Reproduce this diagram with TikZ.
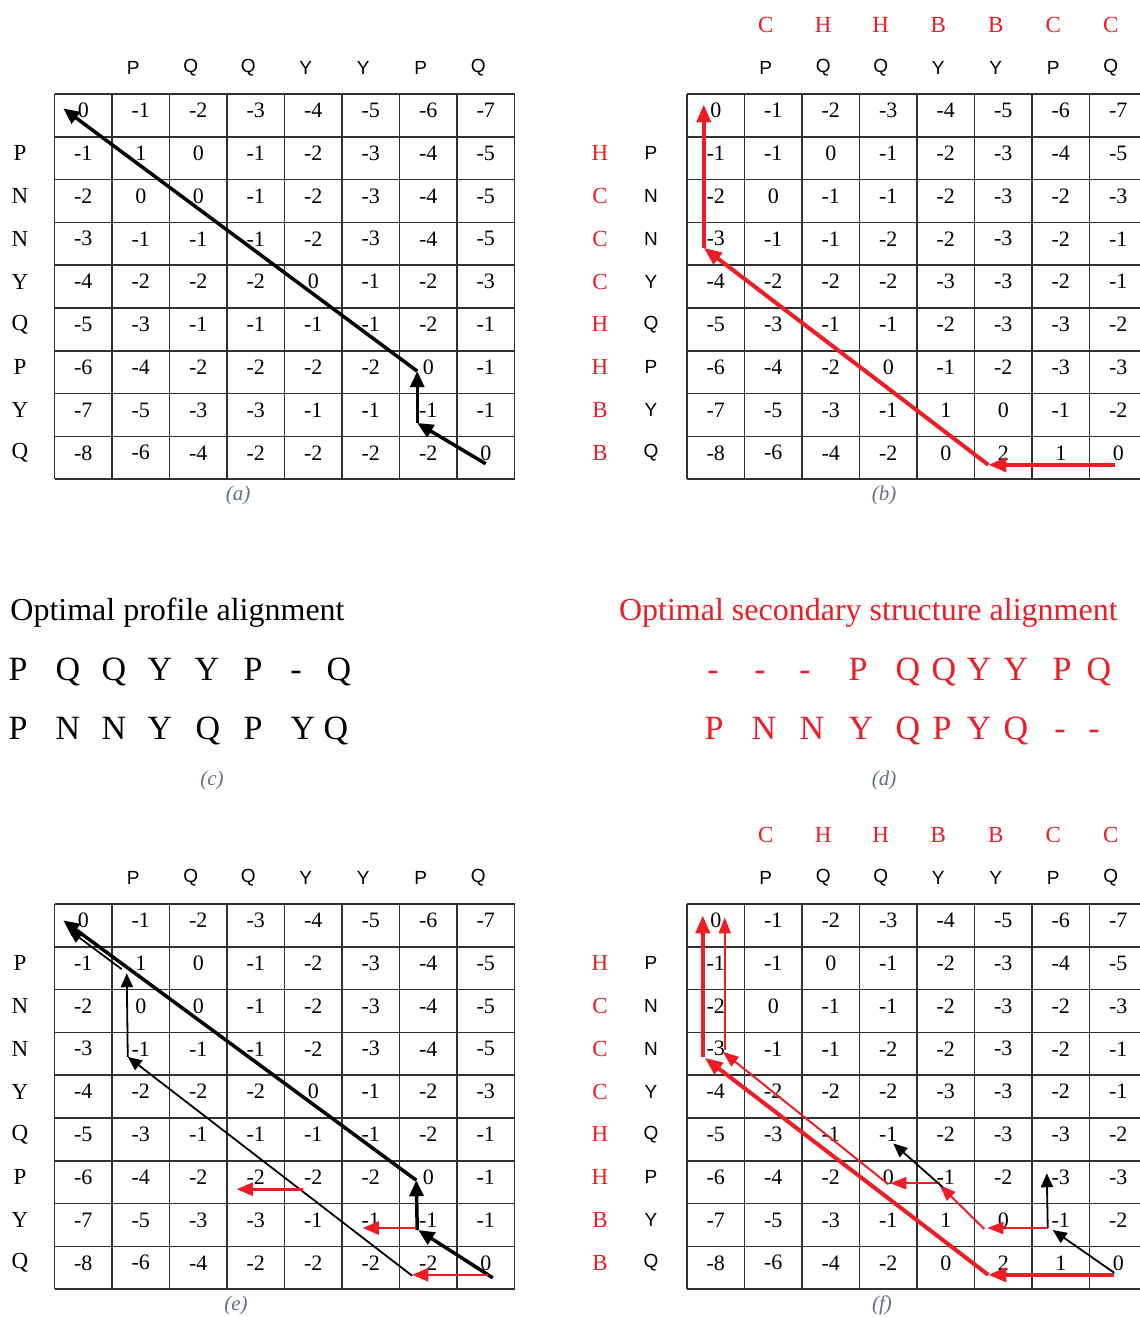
\documentclass[tikz,border=0pt]{standalone}
\usepackage{fontspec}
\setmainfont{Liberation Serif}
\setsansfont{Liberation Sans}
\usetikzlibrary{arrows.meta,calc}
\definecolor{trace}{HTML}{EE1C24}
\definecolor{capgray}{HTML}{5F6F88}
\definecolor{gridln}{HTML}{303030}

\begin{document}
\begin{tikzpicture}[x=0.5pt,y=-0.5pt,
    cellnum/.style={inner sep=0pt,font=\fontsize{11}{13}\selectfont},
    seqlab/.style={inner sep=0pt,font=\sffamily\fontsize{9.5}{11}\selectfont},
    rowlab/.style={inner sep=0pt,font=\fontsize{11.5}{13}\selectfont},
    sslab/.style={inner sep=0pt,color=trace,font=\fontsize{11.5}{13}\selectfont},
    panelcap/.style={inner sep=0pt,color=capgray,font=\itshape\fontsize{10.5}{12}\selectfont},
    aligntxt/.style={inner sep=0pt,anchor=base,font=\fontsize{17}{20}\selectfont},
    gridline/.style={gridln,line width=0.8pt},
    blkthick/.style={line width=1.75pt,-{Triangle[length=8pt,width=7pt]}},
    blkthin/.style={line width=0.9pt,-{Triangle[length=7pt,width=6pt]}},
    redthick/.style={trace,line width=2pt,-{Triangle[length=9pt,width=7pt]}},
    redmid/.style={trace,line width=1.3pt,-{Triangle[length=8pt,width=6.5pt]}},
    redthin/.style={trace,line width=1pt,-{Triangle[length=8pt,width=6pt]}}
  ]
    \path[use as bounding box,fill=white] (0,0) rectangle (1140,1317);

    % Grids of the four score matrices
    \foreach \p/\xo/\yo in {a/54.5/94,b/687/94,e/54.5/904,f/687/904}{
      \foreach \k in {0,...,8}
        \draw[gridline] (\xo+57.5*\k,\yo) -- (\xo+57.5*\k,\yo+385.2);
      \foreach \k in {0,...,9}
        \draw[gridline] (\xo,\yo+42.8*\k) -- (\xo+460,\yo+42.8*\k);
    }

    % Profile scores, panels (a) and (e)
    \foreach \p/\yo in {a/94,e/904}{
      \foreach \scores [count=\r from 0] in {{0,-1,-2,-3,-4,-5,-6,-7},
          {-1,1,0,-1,-2,-3,-4,-5},{-2,0,0,-1,-2,-3,-4,-5},
          {-3,-1,-1,-1,-2,-3,-4,-5},{-4,-2,-2,-2,0,-1,-2,-3},
          {-5,-3,-1,-1,-1,-1,-2,-1},{-6,-4,-2,-2,-2,-2,0,-1},
          {-7,-5,-3,-3,-1,-1,-1,-1},{-8,-6,-4,-2,-2,-2,-2,0}}{
        \foreach \v [count=\c from 0] in \scores
          \node[cellnum] (\p-\r-\c) at (83.25+57.5*\c,\yo+16.4+42.8*\r) {\v};
      }
    }

    % Secondary structure scores, panels (b) and (f)
    \foreach \p/\yo in {b/94,f/904}{
      \foreach \scores [count=\r from 0] in {{0,-1,-2,-3,-4,-5,-6,-7},
          {-1,-1,0,-1,-2,-3,-4,-5},{-2,0,-1,-1,-2,-3,-2,-3},
          {-3,-1,-1,-2,-2,-3,-2,-1},{-4,-2,-2,-2,-3,-3,-2,-1},
          {-5,-3,-1,-1,-2,-3,-3,-2},{-6,-4,-2,0,-1,-2,-3,-3},
          {-7,-5,-3,-1,1,0,-1,-2},{-8,-6,-4,-2,0,2,1,0}}{
        \foreach \v [count=\c from 0] in \scores
          \node[cellnum] (\p-\r-\c) at (715.75+57.5*\c,\yo+16.4+42.8*\r) {\v};
      }
    }

    % Sequence labels
    \foreach \p/\xo/\yo in {a/54.5/94,e/54.5/904,b/687/94,f/687/904}
      \foreach \ch [count=\c] in {P,Q,Q,Y,Y,P,Q}
        \node[seqlab] (\p-col-\c) at (\xo+21.25+57.5*\c,\yo-26) {\ch};
    \foreach \p/\yo in {a/94,e/904}
      \foreach \ch [count=\r] in {P,N,N,Y,Q,P,Y,Q}
        \node[rowlab] (\p-row-\r) at (20,\yo+16.4+42.8*\r) {\ch};
    \foreach \p/\yo in {b/94,f/904}{
      \foreach \ch [count=\c] in {C,H,H,B,B,C,C}
        \node[sslab] (\p-ss-\c) at (708.25+57.5*\c,\yo-69) {\ch};
      \foreach \ch [count=\r] in {P,N,N,Y,Q,P,Y,Q}
        \node[seqlab] (\p-row-\r) at (651,\yo+16.4+42.8*\r) {\ch};
      \foreach \ch [count=\r] in {H,C,C,C,H,H,B,B}
        \node[sslab] (\p-ssr-\r) at (600,\yo+16.4+42.8*\r) {\ch};
    }

    % Traceback (a)
    \draw[blkthick] ($(a-8-7)+(0,11)$) -- ($(a-7-6)+(-11,13)$);
    \draw[blkthick] ($(a-7-6)+(-11,13)$) -- ($(a-6-6)+(-11,4)$);
    \draw[blkthick] ($(a-6-6)+(-11,4)$) -- ($(a-0-0)+(-20,-2)$);

    % Traceback (b)
    \draw[redthick] ($(b-8-7)+(-3,12)$) -- ($(b-8-5)+(-15,12)$);
    \draw[redthick] ($(b-8-5)+(-15,12)$) -- ($(b-3-0)+(-12,9)$);
    \draw[redthick] ($(b-3-0)+(-12,9)$) -- ($(b-0-0)+(-12,-6)$);

    % Traceback (e)
    \draw[blkthin] ($(e-8-6)+(-16,13)$) -- ($(e-3-1)+(-13,8)$);
    \draw[blkthin] ($(e-3-1)+(-13,8)$) -- ($(e-1-1)+(-14,10)$);
    \draw[blkthin] ($(e-1-1)+(-19,6)$) -- ($(e-0-0)+(-15,9)$);
    \draw[blkthick] ($(e-8-7)+(7,15)$) -- ($(e-7-6)+(-10,10)$);
    \draw[blkthick] ($(e-7-6)+(-11,10)$) -- ($(e-6-6)+(-12,3)$);
    \draw[blkthick] ($(e-6-6)+(-12,3)$) -- ($(e-0-0)+(-20,0)$);
    \draw[redmid] ($(e-8-7)+(2,12)$) -- ($(e-8-6)+(-16,12)$);
    \draw[redmid] ($(e-7-6)+(-12,8)$) -- ($(e-7-5)+(-8,8)$);
    \draw[redmid] ($(e-6-4)+(-10,12)$) -- ($(e-6-3)+(-19,12)$);

    % Traceback (f)
    \draw[redthick] ($(f-8-7)+(-4,12)$) -- ($(f-8-5)+(-15,12)$);
    \draw[redthick] ($(f-8-5)+(-15,12)$) -- ($(f-3-0)+(-11,9)$);
    \draw[redthick] ($(f-3-0)+(-13,8)$) -- ($(f-0-0)+(-13,-5)$);
    \draw[redthin] ($(f-7-6)+(-13,8)$) -- ($(f-7-5)+(-16,8)$);
    \draw[redthin] ($(f-7-5)+(-19,9)$) -- ($(f-6-4)+(-6,8)$);
    \draw[redthin] ($(f-6-4)+(-6,6)$) -- ($(f-6-3)+(2,6)$);
    \draw[redthin] ($(f-6-3)+(0,7)$) -- ($(f-3-0)+(7,3)$);
    \draw[redthin] ($(f-3-0)+(9,1)$) -- ($(f-0-0)+(9,-3)$);
    \draw[blkthin] ($(f-8-7)+(-4,10)$) -- ($(f-7-6)+(-8,10)$);
    \draw[blkthin] ($(f-7-6)+(-13,8)$) -- ($(f-6-6)+(-14,-4)$);
    \draw[blkthin] ($(f-6-4)+(-3,10)$) -- ($(f-5-3)+(5,9)$);

    % Optimal alignments (c) and (d)
    \node[anchor=base west,inner sep=0pt,font=\fontsize{16}{19}\selectfont]
      (proftitle) at (10,620) {Optimal profile alignment};
    \node[anchor=base east,inner sep=0pt,color=trace,font=\fontsize{16}{19}\selectfont]
      (sstitle) at (1118,620) {Optimal secondary structure alignment};

    \foreach \x/\ch [count=\i] in {18/P,68/Q,114/Q,160/Y,207/Y,253/P,296/-,339/Q}
      \node[aligntxt] (pa-top-\i) at (\x,680) {\ch};
    \foreach \x/\ch [count=\i] in {18/P,68/N,114/N,160/Y,208/Q,253/P,303/Y,336/Q}
      \node[aligntxt] (pa-bot-\i) at (\x,739) {\ch};
    \foreach \x/\ch [count=\i] in {713/-,760/-,805/-,858/P,908/Q,944/Q,979/Y,1016/Y,1062/P,1099/Q}
      \node[aligntxt,color=trace] (sa-top-\i) at (\x,680) {\ch};
    \foreach \x/\ch [count=\i] in {714/P,764/N,812/N,861/Y,908/Q,942/P,979/Y,1016/Q,1060/-,1094/-}
      \node[aligntxt,color=trace] (sa-bot-\i) at (\x,739) {\ch};

    % Panel captions
    \node[panelcap] (cap-a) at (238,495) {(a)};
    \node[panelcap] (cap-b) at (884,495) {(b)};
    \node[panelcap] (cap-c) at (212,780) {(c)};
    \node[panelcap] (cap-d) at (884,780) {(d)};
    \node[panelcap] (cap-e) at (236,1305) {(e)};
    \node[panelcap] (cap-f) at (882,1305) {(f)};
  \end{tikzpicture}
\end{document}
